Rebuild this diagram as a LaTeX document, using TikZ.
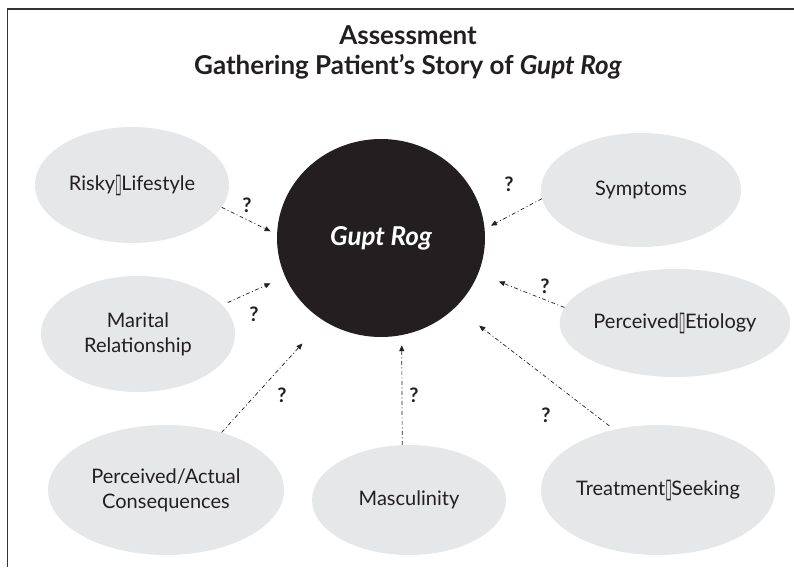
\documentclass[tikz,border=0pt]{standalone}
\usepackage{fontspec}
\usepackage{graphicx}
\setmainfont{Lato}
\newfontfamily\dejavu{DejaVu Sans}
\usetikzlibrary{shapes.geometric,arrows.meta}
\definecolor{ink}{HTML}{231F20}
\definecolor{bubble}{HTML}{E6E7E8}
\definecolor{framec}{HTML}{333333}
\newcommand\tofu{\raisebox{-1.5pt}{\scalebox{0.6}[1.35]{\dejavu ▯}}\kern-0.5pt}
\tikzset{
  bub/.style={ellipse, fill=bubble, draw=none, inner sep=0pt, text=ink, align=center,
    font=\fontsize{20}{25}\selectfont},
  qm/.style={text=ink, inner sep=0pt, font=\fontsize{20}{22}\bfseries},
  link/.style={draw=ink, line width=0.7pt, dash pattern=on 4pt off 2.5pt on 1pt off 2.5pt,
    -{Triangle[length=6pt,width=5pt]}},
}
\begin{document}
\begin{tikzpicture}[x=1pt,y=-1pt]
\useasboundingbox (0,0) rectangle (794,567);
% frame
\draw[framec, line width=1.4pt] (794,9) -- (7.5,9) -- (7.5,567);
% title
\node[text=ink, font=\fontsize{26}{30}\bfseries, anchor=base] (t1) at (408,45) {Assessment};
\node[text=ink, font=\fontsize{26}{30}\bfseries, anchor=base] (t2) at (408,75) {Gathering Patient’s Story of \textit{Gupt Rog}};
% center
\node[ellipse, fill=ink, minimum width=208pt, minimum height=198pt, inner sep=0pt] (gupt) at (381,238) {};
\node[text=white, font=\fontsize{26}{28}\bfseries\itshape, anchor=base] (guptlbl) at (381,245) {Gupt Rog};
% bubbles
\node[bub, minimum width=194pt, minimum height=116pt] (risky) at (132,185) {Risky\tofu Lifestyle};
\node[bub, minimum width=194pt, minimum height=116pt] (marital) at (138,334) {Marital\\Relationship};
\node[bub, minimum width=236pt, minimum height=130pt] (cons) at (166,490) {Perceived/Actual\\Consequences};
\node[bub, minimum width=194pt, minimum height=110pt] (masc) at (409,500) {Masculinity};
\node[bub, minimum width=234pt, minimum height=130pt] (treat) at (658,490) {Treatment\tofu Seeking};
\node[bub, minimum width=200pt, minimum height=108pt] (etio) at (675,323) {Perceived\tofu Etiology};
\node[bub, minimum width=200pt, minimum height=114pt] (symp) at (641,190) {Symptoms};
% connectors
\draw[link, shorten >=7pt] (risky.-14) -- (gupt.178.5);
\draw[link, shorten <=6pt, shorten >=16pt] (marital.19) -- (gupt.-158);
\draw[link, shorten >=31pt] (cons.46) -- (gupt.-125.7);
\draw[link, shorten >=10pt] (masc.97) -- (gupt.-78);
\draw[link, shorten <=6pt, shorten >=30pt] (treat.126) -- (gupt.-43.5);
\draw[link, shorten >=22pt] (etio.172.5) -- (gupt.-20.9);
\draw[link, shorten >=7pt] (symp.185.7) -- (gupt.5.7);
% question marks
\node[qm] (q1) at (247,205) {?};
\node[qm] (q2) at (254,314) {?};
\node[qm] (q3) at (282,395) {?};
\node[qm] (q4) at (414,395) {?};
\node[qm] (q5) at (546,415) {?};
\node[qm] (q6) at (545,286) {?};
\node[qm] (q7) at (509,184) {?};
\end{tikzpicture}
\end{document}
